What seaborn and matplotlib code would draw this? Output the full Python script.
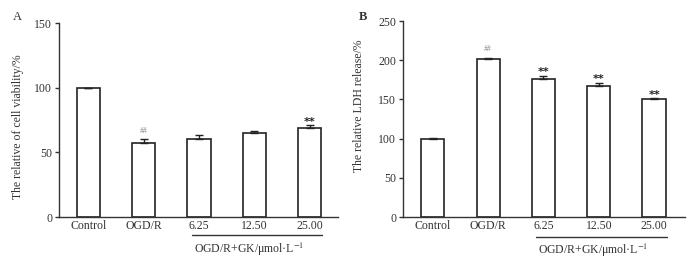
import numpy as np
import pandas as pd
import seaborn as sns
from matplotlib import pyplot as plt

groups = ['Control', 'OGD/R', '6.25', '12.50', '25.00']

# panel A: cell viability
viability = [100, 57, 60.5, 65, 69]
viability_err = [0, 3, 3, 1.5, 2]
viability_marks = ['', '##', '', '', '**']

# panel B: LDH release
ldh = [100, 202, 176.5, 167.5, 150]
ldh_err = [1, 1.5, 4, 4, 1.5]
ldh_marks = ['', '##', '**', '**', '**']

sns.set_style('ticks')
plt.rcParams['font.family'] = ['Liberation Serif', 'DejaVu Serif']
plt.rcParams['mathtext.fontset'] = 'stix'

fig = plt.figure(figsize=(7, 2.6), dpi=100)
ax_a = fig.add_axes([0.0843, 0.165, 0.399, 0.7465])
ax_b = fig.add_axes([0.5757, 0.165, 0.403, 0.754])


def draw_panel(ax, vals, errs, marks, ymax, ylabel, xlim, line_y, text_y, label_xy):
    df = pd.DataFrame({'group': groups, 'value': vals})
    sns.barplot(data=df, x='group', y='value', color='white', edgecolor='#222222',
                linewidth=1.2, width=0.42, ax=ax, errorbar=None)
    for p in ax.patches:
        p.set_facecolor('white')
    x = np.arange(len(groups))
    ax.errorbar(x, vals, yerr=[np.zeros(len(errs)), errs], fmt='none',
                ecolor='#222222', elinewidth=1.0, capsize=3, capthick=1.0)
    for xi, v, e, m in zip(x, vals, errs, marks):
        if m == '##':
            ax.annotate(m, (xi, v + e), xytext=(0, 3), textcoords='offset points',
                        ha='center', va='bottom', fontsize=5.5, color='#888888')
        elif m:
            ax.annotate(m, (xi, v + e), xytext=(0, -1), textcoords='offset points',
                        ha='center', va='bottom', fontsize=8, color='#222222',
                        family='DejaVu Sans', fontweight='bold')

    ax.set_ylim(0, ymax)
    ax.set_yticks(np.arange(0, ymax + 1, 50))
    ax.set_xlim(*xlim)
    ax.set_xlabel('')
    ax.set_ylabel(ylabel, fontsize=8.5, color='#333333')
    ax.yaxis.set_label_coords(*label_xy)
    ax.tick_params(axis='x', length=0, labelsize=8.5, colors='#333333', pad=2)
    ax.tick_params(axis='y', length=3, width=1, labelsize=8.5, colors='#333333', pad=2)
    for s in ['top', 'right']:
        ax.spines[s].set_visible(False)
    for s in ['left', 'bottom']:
        ax.spines[s].set_color('#333333')
        ax.spines[s].set_linewidth(1.0)

    trans = ax.get_xaxis_transform()
    ax.plot([1.87, 4.23], [line_y, line_y], color='#333333', lw=1.0,
            transform=trans, clip_on=False)
    ax.text(2.9, text_y, r'OGD/R+GK/μmol·L$^{-1}$', transform=trans, ha='center',
            va='center', fontsize=8.5, color='#333333')


draw_panel(ax_a, viability, viability_err, viability_marks, 150,
           'The relative of cell viability/%', (-0.53, 4.52), -0.092, -0.165,
           (-0.125, 0.464))
draw_panel(ax_b, ldh, ldh_err, ldh_marks, 250,
           'The relative LDH release/%', (-0.54, 4.56), -0.1, -0.172,
           (-0.135, 0.566))

fig.text(17 / 700, 1 - 17 / 260, 'A', fontsize=9, ha='center', va='center', color='#333333')
fig.text(363 / 700, 1 - 17 / 260, 'B', fontsize=9, ha='center', va='center',
         fontweight='bold', color='#333333')

fig.savefig('out.png', dpi=100)
